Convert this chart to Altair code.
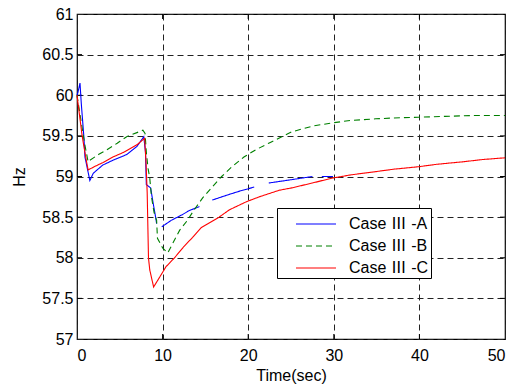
import altair as alt
import pandas as pd

# Case III-A (blue) - drawn in segments (gaps in the original trace)
a_seg = [1]*19 + [2]*5 + [3]*4 + [4]*3 + [5]*2
a_t = [0, 0.1, 0.35, 0.5, 0.8, 0.93, 1.5, 1.9, 3.0, 4.2, 5.8, 7.0, 7.8, 8.0, 8.1, 8.6, 8.9, 9.2, 9.3,
       9.9, 11.0, 12.3, 13.1, 14.3,
       15.8, 17.5, 19.0, 20.7,
       22.4, 25.0, 27.5,
       28.6, 29.9]
a_y = [60.0, 60.03, 60.15, 59.9, 59.49, 59.24, 58.95, 59.04, 59.14, 59.2, 59.27, 59.37, 59.49, 59.3, 58.9, 58.86, 58.67, 58.49, 58.42,
       58.38, 58.46, 58.53, 58.58, 58.63,
       58.71, 58.77, 58.82, 58.87,
       58.92, 58.96, 59.0,
       59.0, 59.0]

# Case III-B (green, dashed)
b_t = [0, 0.3, 0.6, 0.9, 1.3, 1.5, 2.5, 3.5, 4.7, 5.8, 7.0, 7.7, 7.95, 8.1, 8.3, 8.5, 8.7, 9.0, 9.3, 9.4, 10.0,
       10.6, 11.2, 12.0, 12.9, 13.5, 14.7, 15.7, 16.9, 18.1, 19.5, 20.9, 22.4, 25.1, 27.5, 29.8, 32.0, 34.9,
       37.0, 39.9, 43.0, 46.0, 50.0]
b_y = [60.0, 59.8, 59.6, 59.4, 59.18, 59.2, 59.27, 59.33, 59.41, 59.49, 59.54, 59.57, 59.53, 59.3, 59.1, 58.98, 58.75, 58.56, 58.46, 58.24, 58.12,
       58.06, 58.18, 58.34, 58.46, 58.56, 58.74, 58.86, 59.0, 59.12, 59.24, 59.33, 59.41, 59.55, 59.62, 59.66, 59.69, 59.71,
       59.72, 59.73, 59.74, 59.75, 59.75]

# Case III-C (red)
c_t = [0, 0.3, 0.6, 1.0, 1.3, 2.0, 3.0, 4.2, 5.5, 7.0, 7.9, 8.05, 8.2, 8.35, 8.5, 8.95, 9.65, 10.4, 11.4, 12.5, 13.5,
       14.5, 16.6, 17.8, 19.8, 21.3, 23.6, 25.1, 27.5, 29.8, 32.0, 34.9, 37.0, 39.9, 42.0, 45.0, 47.5, 50.0]
c_y = [60.0, 59.75, 59.5, 59.25, 59.08, 59.12, 59.17, 59.24, 59.3, 59.39, 59.47, 59.2, 58.8, 58.0, 57.85, 57.64, 57.76, 57.89, 58.0, 58.14, 58.25,
       58.37, 58.5, 58.59, 58.69, 58.75, 58.83, 58.86, 58.92, 58.98, 59.02, 59.06, 59.09, 59.12, 59.15, 59.18, 59.21, 59.23]

series_names = ["Case \u2162 -A", "Case \u2162 -B", "Case \u2162 -C"]
x_ticks = [0, 10, 20, 30, 40, 50]
y_ticks = [57, 57.5, 58, 58.5, 59, 59.5, 60, 60.5, 61]

rows = []
for i, (t, y, s) in enumerate(zip(a_t, a_y, a_seg)):
    rows.append({"t": t, "hz": y, "series": series_names[0], "seg": f"A{s}", "i": i})
for i, (t, y) in enumerate(zip(b_t, b_y)):
    rows.append({"t": t, "hz": y, "series": series_names[1], "seg": "B", "i": i})
for i, (t, y) in enumerate(zip(c_t, c_y)):
    rows.append({"t": t, "hz": y, "series": series_names[2], "seg": "C", "i": i})
df = pd.DataFrame(rows)

W, H = 428, 325
FONT = "Liberation Sans"
xs = alt.Scale(domain=[0, 50], nice=False)
ys = alt.Scale(domain=[57, 61], nice=False)

lines = alt.Chart(df).mark_line(strokeWidth=1.1).encode(
    x=alt.X("t:Q", scale=xs, title="Time(sec)",
            axis=alt.Axis(values=x_ticks, grid=True, ticks=False, domain=False, labelPadding=8)),
    y=alt.Y("hz:Q", scale=ys, title="Hz",
            axis=alt.Axis(values=y_ticks, grid=True, ticks=False, domain=False, labelPadding=4,
                          labelExpr="datum.value % 1 == 0 ? format(datum.value, 'd') : format(datum.value, '.1f')")),
    color=alt.Color("series:N", scale=alt.Scale(domain=series_names, range=["#0000FF", "#008000", "#FF0000"]),
                    legend=alt.Legend(title=None, orient="none", legendX=200, legendY=194,
                                      symbolType="M-1.6,0.04H1.6", symbolSize=625, symbolStrokeWidth=1.2,
                                      symbolFillColor="transparent",
                                      symbolOffset=23.5, labelOffset=19.5,
                                      labelFontSize=16, labelFont=FONT + ", Noto Sans CJK JP", labelColor="black",
                                      strokeColor="black", fillColor="white", padding=2, rowPadding=0)),
    strokeDash=alt.StrokeDash("series:N", scale=alt.Scale(domain=series_names, range=[[1, 0], [6, 4], [1, 0]]),
                              legend=None),
    detail="seg:N",
    order="i:Q",
)

xt = pd.DataFrame({"v": x_ticks[1:-1]})
yt = pd.DataFrame({"v": y_ticks[1:-1]})
tick_b = alt.Chart(xt).mark_rule(color="black").encode(x=alt.X("v:Q", scale=xs), y=alt.value(H), y2=alt.value(H - 5))
tick_t = alt.Chart(xt).mark_rule(color="black").encode(x=alt.X("v:Q", scale=xs), y=alt.value(0), y2=alt.value(5))
tick_l = alt.Chart(yt).mark_rule(color="black").encode(y=alt.Y("v:Q", scale=ys), x=alt.value(0), x2=alt.value(5))
tick_r = alt.Chart(yt).mark_rule(color="black").encode(y=alt.Y("v:Q", scale=ys), x=alt.value(W), x2=alt.value(W - 5))

chart = alt.layer(tick_b, tick_t, tick_l, tick_r, lines).properties(
    width=W, height=H,
    autosize=alt.AutoSizeParams(type="none"),
    padding={"left": 77, "top": 14, "right": 15, "bottom": 46},
).configure_view(stroke="black", strokeWidth=1.2).configure_axis(
    labelFont=FONT, labelFontSize=16, labelColor="black",
    titleFont=FONT, titleFontSize=16, titleFontWeight="normal", titleColor="black",
    gridColor="#222222", gridDash=[6, 4], gridOpacity=1, gridWidth=1,
).configure_axisY(titlePadding=14).configure_axisX(titlePadding=4)

chart.save("out.html", embed_options={"renderer": "svg", "actions": False})
